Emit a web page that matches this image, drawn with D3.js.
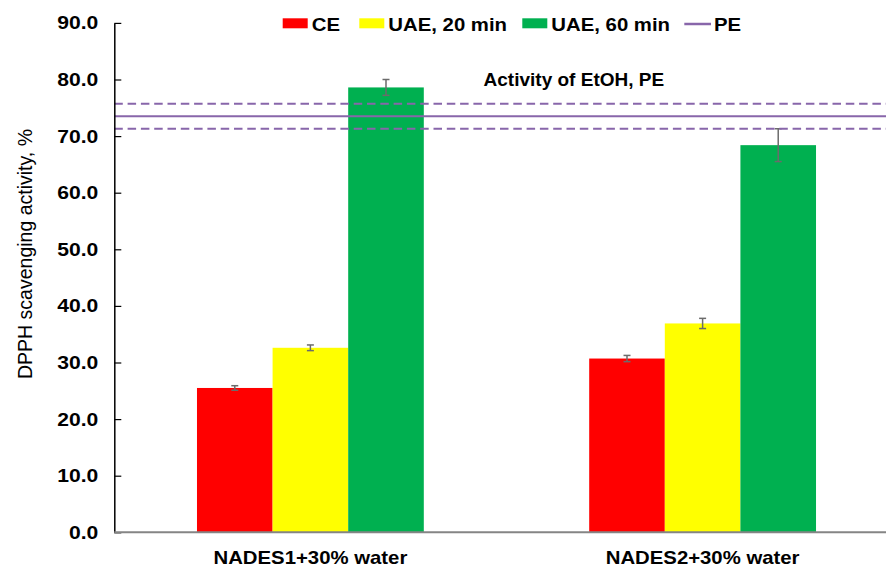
<!DOCTYPE html>
<html>
<head>
<meta charset="utf-8">
<script src="https://cdn.jsdelivr.net/npm/d3@7"></script>
<style>
  html, body { margin: 0; padding: 0; background: #fff; }
  svg { display: block; font-family: "Liberation Sans", Arial, sans-serif; }
</style>
</head>
<body>
<svg id="chart" width="886" height="567"></svg>
<script>
// Extraction solvents on the x axis
const categories = ["NADES1+30% water", "NADES2+30% water"];
// Extraction methods (bar series)
const seriesNames = ["CE", "UAE, 20 min", "UAE, 60 min"];
const seriesColors = ["#FF0000", "#FFFF00", "#00B050"];
// DPPH scavenging activity, % (mean and standard deviation per solvent)
const ceValues = [25.5, 30.7];
const ceErrors = [0.4, 0.55];
const uae20Values = [32.6, 36.9];
const uae20Errors = [0.5, 0.9];
const uae60Values = [78.6, 68.4];
const uae60Errors = [1.4, 2.9];
// Reference: activity of the ethanolic extract (PE), mean ± SD
const peLabel = "PE";
const peMean = 73.5;
const peSd = 2.2;
// Y axis ticks
const yTicks = [0, 10, 20, 30, 40, 50, 60, 70, 80, 90];

const seriesValues = [ceValues, uae20Values, uae60Values];
const seriesErrors = [ceErrors, uae20Errors, uae60Errors];
const rows = [];
categories.forEach((c, ci) => {
  seriesNames.forEach((s, si) => {
    rows.push({ category: c, series: s, value: seriesValues[si][ci], err: seriesErrors[si][ci], color: seriesColors[si] });
  });
});

const svg = d3.select("#chart");
const plotLeft = 114.3, plotRight = 898.7, plotTop = 22.9, plotBottom = 532.3;

const x = d3.scaleBand().domain(categories).range([plotLeft, plotRight])
  .paddingInner(0.4217).paddingOuter(0.2108);
const xs = d3.scaleBand().domain(seriesNames).range([0, x.bandwidth()]);
const y = d3.scaleLinear().domain([0, 90]).range([plotBottom, plotTop]);

// stretch text horizontally by factor k
function stretch(sel, k) {
  sel.each(function () {
    const w = this.getComputedTextLength();
    d3.select(this).attr("textLength", w * k).attr("lengthAdjust", "spacingAndGlyphs");
  });
}

// Bars
const g = svg.append("g");
g.selectAll("rect.bar").data(rows).join("rect")
  .attr("class", "bar")
  .attr("x", d => x(d.category) + xs(d.series))
  .attr("width", xs.bandwidth())
  .attr("y", d => y(d.value))
  .attr("height", d => y(0) - y(d.value))
  .attr("fill", d => d.color);

// Error bars
const eb = g.selectAll("g.err").data(rows).join("g").attr("class", "err")
  .attr("stroke", "#6b6b6b").attr("stroke-width", 1.5);
eb.append("line")
  .attr("x1", d => x(d.category) + xs(d.series) + xs.bandwidth() / 2)
  .attr("x2", d => x(d.category) + xs(d.series) + xs.bandwidth() / 2)
  .attr("y1", d => y(d.value + d.err)).attr("y2", d => y(d.value - d.err));
[1, -1].forEach(s => {
  eb.append("line")
    .attr("x1", d => x(d.category) + xs(d.series) + xs.bandwidth() / 2 - 3.5)
    .attr("x2", d => x(d.category) + xs(d.series) + xs.bandwidth() / 2 + 3.5)
    .attr("y1", d => y(d.value + s * d.err)).attr("y2", d => y(d.value + s * d.err));
});

// PE reference lines
const peColor = "#8866AA";
svg.append("line").attr("x1", plotLeft).attr("x2", 886)
  .attr("y1", y(peMean)).attr("y2", y(peMean))
  .attr("stroke", peColor).attr("stroke-width", 2);
[peMean + peSd, peMean - peSd].forEach(v => {
  svg.append("line").attr("x1", plotLeft).attr("x2", 886)
    .attr("y1", y(v)).attr("y2", y(v))
    .attr("stroke", peColor).attr("stroke-width", 2)
    .attr("stroke-dasharray", "8.5,4.8");
});

svg.append("text")
  .attr("x", (482.7 + 665) / 2).attr("y", 86)
  .attr("text-anchor", "middle")
  .attr("font-size", 19).attr("font-weight", "bold")
  .text("Activity of EtOH, PE");

// Y axis
const yAxis = svg.append("g").attr("transform", `translate(${plotLeft},0)`)
  .call(d3.axisLeft(y).tickValues(yTicks).tickFormat(d3.format(".1f")).tickSizeInner(-7).tickSizeOuter(0).tickPadding(16));
yAxis.select(".domain").attr("stroke", "#000").attr("stroke-width", 1.5);
yAxis.selectAll(".tick line").attr("stroke", "#000").attr("stroke-width", 1.2);
yAxis.selectAll(".tick text")
  .attr("font-size", 18.5).attr("font-weight", "bold").attr("fill", "#000")
  .attr("font-family", "Liberation Sans, Arial, sans-serif")
  .call(stretch, 1.14);

// X axis
const xAxis = svg.append("g").attr("transform", `translate(0,${plotBottom})`)
  .call(d3.axisBottom(x).tickSize(0).tickPadding(18.5));
xAxis.select(".domain").attr("stroke", "#858585").attr("stroke-width", 2).attr("d", `M${plotLeft},0H886`);
xAxis.selectAll(".tick text")
  .attr("font-size", 19).attr("font-weight", "bold").attr("fill", "#000")
  .attr("font-family", "Liberation Sans, Arial, sans-serif")
  .call(stretch, 1.07);

// Y title
svg.append("text")
  .attr("transform", `translate(31.5,254) rotate(-90)`)
  .attr("text-anchor", "middle")
  .attr("font-size", 19.5)
  .text("DPPH scavenging activity, %");

// Legend
const legend = svg.append("g");
const legendX = [282.7, 359.3, 522.3];
seriesNames.forEach((s, i) => {
  legend.append("rect").attr("x", legendX[i]).attr("y", 18.3).attr("width", 25).attr("height", 10)
    .attr("fill", seriesColors[i]);
  legend.append("text").attr("x", legendX[i] + 29).attr("y", 30.7)
    .attr("font-size", 18.5).attr("font-weight", "bold").text(s)
    .call(stretch, 1.1);
});
legend.append("line").attr("x1", 684.3).attr("x2", 711).attr("y1", 24).attr("y2", 24)
  .attr("stroke", peColor).attr("stroke-width", 2.5);
legend.append("text").attr("x", 714).attr("y", 30.7)
  .attr("font-size", 18.5).attr("font-weight", "bold").text(peLabel)
  .call(stretch, 1.1);
</script>
</body>
</html>
